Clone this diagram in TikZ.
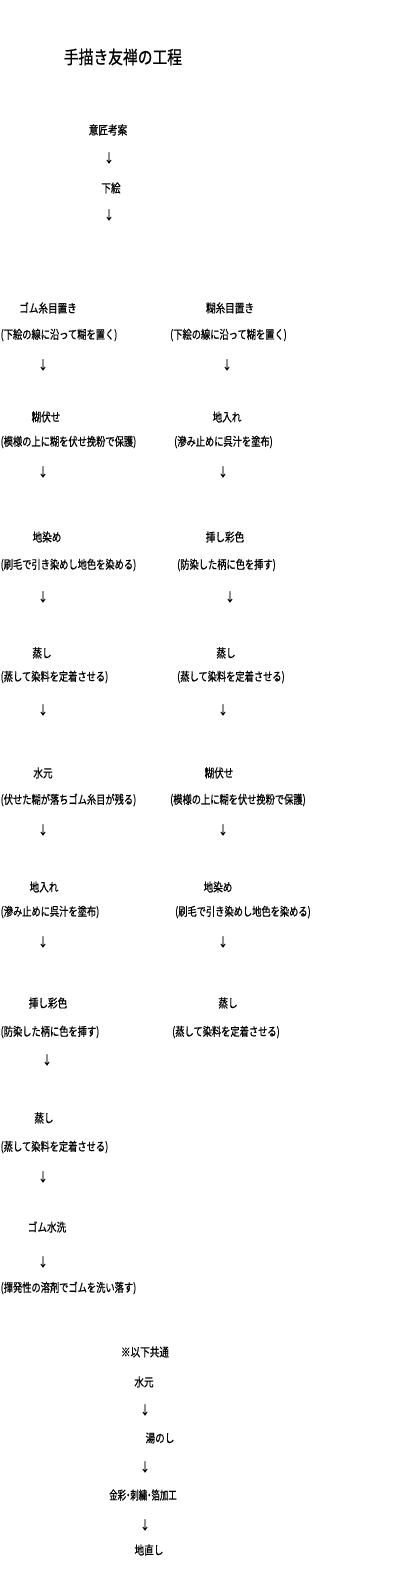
\documentclass[tikz,border=0pt]{standalone}
\usepackage{fontspec}
\newfontfamily\jp[FakeBold=0.8]{Noto Sans CJK JP}
\tikzset{
  lbl/.style={font=\jp\fontsize{12}{12}\selectfont, inner sep=0pt, xscale=0.8},
  dsc/.style={font=\jp\fontsize{12}{12}\selectfont, inner sep=0pt, xscale=0.77, anchor=west},
  ttl/.style={font=\jp\fontsize{18}{18}\selectfont, inner sep=0pt, xscale=0.82},
  arr/.style={font=\jp\fontsize{12}{12}\selectfont, inner sep=0pt, xscale=0.8}
}
\begin{document}
\begin{tikzpicture}[x=1pt,y=-1pt]
\useasboundingbox[fill=white] (0,0) rectangle (400,1572);
\node[ttl] (title) at (123,57) {手描き友禅の工程};
\node[lbl] (n1) at (108,130) {意匠考案};
\node[arr] (a1) at (109,158) {↓};
\node[lbl] (n2) at (111,188) {下絵};
\node[arr] (a2) at (109,215) {↓};
% left column
\node[lbl] (L1) at (48,308) {ゴム糸目置き};
\node[dsc] (L1d) at (0.5,335) {(下絵の線に沿って糊を置く)};
\node[arr] (La1) at (43,365) {↓};
\node[lbl] (L2) at (46,417) {糊伏せ};
\node[dsc] (L2d) at (0.5,442) {(模様の上に糊を伏せ挽粉で保護)};
\node[arr] (La2) at (43,472) {↓};
\node[lbl] (L3) at (47,537) {地染め};
\node[dsc] (L3d) at (0.5,565) {(刷毛で引き染めし地色を染める)};
\node[arr] (La3) at (43,597) {↓};
\node[lbl] (L4) at (42,653) {蒸し};
\node[dsc] (L4d) at (0.5,677) {(蒸して染料を定着させる)};
\node[arr] (La4) at (43,710) {↓};
\node[lbl] (L5) at (43,773) {水元};
\node[dsc] (L5d) at (0.5,800) {(伏せた糊が落ちゴム糸目が残る)};
\node[arr] (La5) at (43,830) {↓};
\node[lbl] (L6) at (44,887) {地入れ};
\node[dsc] (L6d) at (0.5,912) {(滲み止めに呉汁を塗布)};
\node[arr] (La6) at (43,942) {↓};
\node[lbl] (L7) at (48,1003) {挿し彩色};
\node[dsc] (L7d) at (0.5,1032) {(防染した柄に色を挿す)};
\node[arr] (La7) at (47,1060) {↓};
\node[lbl] (L8) at (44,1118) {蒸し};
\node[dsc] (L8d) at (0.5,1147) {(蒸して染料を定着させる)};
\node[arr] (La8) at (43,1177) {↓};
\node[lbl] (L9) at (47,1227) {ゴム水洗};
\node[arr] (La9) at (43,1262) {↓};
\node[dsc] (L9d) at (0.5,1288) {(揮発性の溶剤でゴムを洗い落す)};
% right column
\node[lbl] (R1) at (230,308) {糊糸目置き};
\node[dsc] (R1d) at (170,335) {(下絵の線に沿って糊を置く)};
\node[arr] (Ra1) at (227,365) {↓};
\node[lbl] (R2) at (227,417) {地入れ};
\node[dsc] (R2d) at (174,442) {(滲み止めに呉汁を塗布)};
\node[arr] (Ra2) at (223,472) {↓};
\node[lbl] (R3) at (225,537) {挿し彩色};
\node[dsc] (R3d) at (177,565) {(防染した柄に色を挿す)};
\node[arr] (Ra3) at (230,597) {↓};
\node[lbl] (R4) at (226,653) {蒸し};
\node[dsc] (R4d) at (177,677) {(蒸して染料を定着させる)};
\node[arr] (Ra4) at (223,710) {↓};
\node[lbl] (R5) at (219,773) {糊伏せ};
\node[dsc] (R5d) at (170,800) {(模様の上に糊を伏せ挽粉で保護)};
\node[arr] (Ra5) at (223,830) {↓};
\node[lbl] (R6) at (218,887) {地染め};
\node[dsc] (R6d) at (175,912) {(刷毛で引き染めし地色を染める)};
\node[arr] (Ra6) at (223,942) {↓};
\node[lbl] (R7) at (228,1003) {蒸し};
\node[dsc] (R7d) at (172,1032) {(蒸して染料を定着させる)};
% common
\node[lbl] (C0) at (145,1352) {※以下共通};
\node[lbl] (C1) at (144,1382) {水元};
\node[arr] (Ca1) at (145,1410) {↓};
\node[lbl] (C2) at (160,1438) {湯のし};
\node[arr] (Ca2) at (145,1467) {↓};
\node[lbl, xscale=0.88] (C3) at (143,1495) {金彩\kern-0.25em・\kern-0.25em 刺繍\kern-0.25em・\kern-0.25em 箔加工};
\node[arr] (Ca3) at (145,1525) {↓};
\node[lbl] (C4) at (149,1550) {地直し};
\end{tikzpicture}
\end{document}
